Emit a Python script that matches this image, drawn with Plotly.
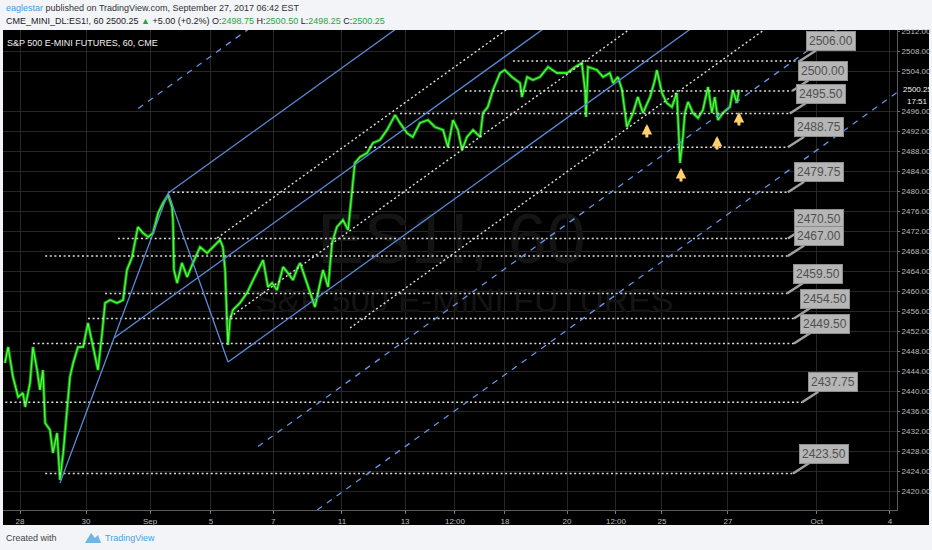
import plotly.graph_objects as go

# ES1! 60 min path, x = trading days from Aug 28 (Aug 28 = 0), y = price
bar_day = [-0.47, -0.37, -0.22, -0.06, 0.09, 0.16, 0.31, 0.40, 0.53, 0.62, 0.71, 0.78, 0.93, 1.02, 1.15,
           1.24, 1.34, 1.46, 1.55, 1.65, 1.80, 1.96, 2.11, 2.27, 2.42, 2.55, 2.64, 2.80, 3.01, 3.20,
           3.32, 3.48, 3.66, 3.82, 3.98, 4.13, 4.29, 4.44, 4.60, 4.72, 4.75, 4.78, 4.88, 5.03, 5.19,
           5.37, 5.59, 5.81, 5.99, 6.21, 6.30, 6.37, 6.43, 6.46, 6.52, 6.61, 6.83, 7.05, 7.24, 7.39,
           7.55, 7.70, 7.83, 7.98, 8.17, 8.32, 8.48, 8.63, 8.70, 8.91, 9.16, 9.32, 9.41, 9.57, 9.69,
           9.84, 10.03, 10.19, 10.31, 10.40, 10.56, 10.78, 10.96, 11.18, 11.40, 11.65, 11.80, 12.02, 12.20, 12.42,
           12.67, 12.89, 13.14, 13.29, 13.45, 13.60, 13.73, 13.88, 14.07, 14.29, 14.38, 14.53, 14.69, 14.91, 15.06,
           15.28, 15.53, 15.59, 15.75, 15.93, 16.15, 16.40, 16.68, 16.99, 17.24, 17.45, 17.55, 17.58, 17.64, 17.92,
           18.11, 18.32, 18.42, 18.57, 18.70, 18.85, 19.04, 19.19, 19.35, 19.57, 19.72, 19.78, 19.94, 20.09, 20.25,
           20.40, 20.47, 20.50, 20.59, 20.65, 20.75, 20.90, 21.06, 21.21, 21.37, 21.49, 21.58, 21.68, 21.83, 22.05,
           22.14, 22.27, 22.33]
bar_price = [2445.6, 2448.8, 2442.8, 2438.8, 2439.6, 2436.8, 2441.6, 2448.8, 2444.2, 2440.2, 2444.2, 2433.6, 2432.2, 2427.6, 2431.6,
             2422.2, 2427.6, 2436.2, 2442.8, 2445.6, 2448.8, 2448.8, 2453.6, 2448.8, 2444.2, 2451.6, 2457.6, 2458.2, 2457.6, 2458.2,
             2464.2, 2466.8, 2472.8, 2471.6, 2470.8, 2471.6, 2475.6, 2477.6, 2479.2, 2476.8, 2474.2, 2464.2, 2461.6, 2465.6, 2462.8,
             2465.6, 2468.8, 2467.6, 2468.8, 2470.2, 2468.8, 2464.2, 2453.6, 2449.2, 2454.2, 2456.2, 2457.6, 2459.6, 2462.2, 2464.2,
             2466.2, 2460.8, 2461.6, 2460.2, 2464.8, 2463.6, 2462.2, 2464.8, 2465.6, 2461.6, 2456.8, 2461.6, 2464.2, 2460.8, 2469.6,
             2472.8, 2474.2, 2472.2, 2480.2, 2485.6, 2486.8, 2487.6, 2489.6, 2490.2, 2492.2, 2495.2, 2493.6, 2491.6, 2490.8, 2493.6,
             2494.2, 2492.8, 2492.2, 2488.8, 2494.2, 2492.2, 2488.2, 2490.8, 2492.2, 2490.8, 2495.6, 2496.8, 2500.2, 2503.6, 2504.2,
             2502.8, 2501.6, 2498.8, 2502.8, 2502.2, 2502.8, 2504.8, 2503.6, 2503.6, 2504.8, 2505.6, 2500.2, 2494.8, 2504.8, 2504.2,
             2502.8, 2503.6, 2501.6, 2502.8, 2500.2, 2492.8, 2495.6, 2498.8, 2495.6, 2498.8, 2502.2, 2504.2, 2499.6, 2497.6, 2496.8,
             2499.6, 2490.2, 2485.6, 2490.8, 2495.6, 2497.8, 2495.6, 2494.6, 2496.2, 2500.8, 2495.6, 2498.8, 2494.2, 2495.6, 2496.8,
             2500.2, 2497.6, 2500.25]

# horizontal levels drawn on the chart
level_price = [2506.00, 2500.00, 2495.50, 2488.75, 2479.75, 2470.50, 2467.00, 2459.50, 2454.50, 2449.50, 2437.75, 2423.50]
level_start = [15.31, 13.82, 11.80, 10.71, 4.60, 3.04, 0.78, 2.64, 2.11, 0.40, -0.60, 0.78]
level_end = [24.22, 23.98, 23.91, 23.85, 23.85, 23.85, 23.85, 23.82, 24.04, 24.04, 24.29, 24.01]

# modified Schiff pitchfork anchors (A, B, C)
fork_day = [1.24, 4.60, 6.46]
fork_price = [2421.6, 2479.6, 2445.8]
fork_solid = [1, 0, -1]
fork_dashed = [2, -2, -3]

# extra dotted parallels (start points)
chan_day = [6.12, 6.52, 10.25]
chan_price = [2470.6, 2454.8, 2452.6]

# yellow arrows
arrow_day = [19.47, 20.53, 21.65, 22.33]
arrow_price = [2493.4, 2484.6, 2491.0, 2495.8]

tick_day = [0, 2.05, 4.04, 5.93, 7.86, 10.0, 11.96, 13.51, 15.06, 16.99, 18.51, 19.94, 21.99, 24.75, 27.02]
tick_text = ["28", "30", "Sep", "5", "7", "11", "13", "12:00", "18", "20", "12:00", "25", "27", "Oct", "4"]
price_ticks = [2420, 2424, 2428, 2432, 2436, 2440, 2444, 2448, 2452, 2456, 2460, 2464, 2468,
               2472, 2476, 2480, 2484, 2488, 2492, 2496, 2504, 2508, 2512]

FONT = "Liberation Sans, Arial, sans-serif"
BLUE = "#5a8ad8"
X_END = 28.0


def px(x):
    return (x - 3) / 894


def py(y):
    return (510 - y) / 480


fig = go.Figure()

# watermark
fig.add_trace(go.Scatter(x=[13.4, 13.8], y=[2469.2, 2457.6], mode="text",
                         text=["ES1!, 60", "S&P 500 E-MINI FUTURES"],
                         textfont=dict(size=[70, 34], color="#141414", family=FONT),
                         hoverinfo="skip", showlegend=False))

# price
fig.add_trace(go.Scatter(x=bar_day, y=bar_price, mode="lines",
                         line=dict(color="#178a17", width=3.2), hoverinfo="skip", showlegend=False))
fig.add_trace(go.Scatter(x=bar_day, y=bar_price, mode="lines",
                         line=dict(color="#4dff3a", width=1.3), showlegend=False))

# horizontal dotted levels
lx, ly = [], []
for s, e, p in zip(level_start, level_end, level_price):
    lx += [s, e, None]
    ly += [p, p, None]
fig.add_trace(go.Scatter(x=lx, y=ly, mode="lines", hoverinfo="skip", showlegend=False,
                         line=dict(color="#dcdcdc", width=1.4, dash="2px,2.6px")))

# pitchfork
ad, bd, cd = fork_day
ap, bp, cp = fork_price
m1d, m1p = (ad + bd) / 2, (ap + bp) / 2
m2d, m2p = (bd + cd) / 2, (bp + cp) / 2
slope = (m2p - m1p) / (m2d - m1d)
spacing = bp - (m1p + slope * (bd - m1d))
s_bc = (cp - bp) / (cd - bd)


def fork_line(k):
    if k == 0:
        d0 = m1d
    else:
        d0 = (m1p - slope * m1d + k * spacing - bp + s_bc * bd) / (s_bc - slope)
    p0 = m1p + slope * (d0 - m1d) + k * spacing
    return [d0, X_END], [p0, p0 + slope * (X_END - d0)]


sx, sy = [ad, bd, cd, None], [ap, bp, cp, None]
for k in fork_solid:
    xs, ys = fork_line(k)
    sx += xs + [None]
    sy += ys + [None]
fig.add_trace(go.Scatter(x=sx, y=sy, mode="lines", hoverinfo="skip", showlegend=False,
                         line=dict(color=BLUE, width=1.3)))

dx, dy = [], []
for k in fork_dashed:
    xs, ys = fork_line(k)
    dx += xs + [None]
    dy += ys + [None]
fig.add_trace(go.Scatter(x=dx, y=dy, mode="lines", hoverinfo="skip", showlegend=False,
                         line=dict(color="#6495e6", width=1.3, dash="6px,6px")))

cx, cy = [], []
for d0, p0 in zip(chan_day, chan_price):
    cx += [d0, X_END, None]
    cy += [p0, p0 + slope * (X_END - d0), None]
fig.add_trace(go.Scatter(x=cx, y=cy, mode="lines", hoverinfo="skip", showlegend=False,
                         line=dict(color="#dcdcdc", width=1.4, dash="2px,2.6px")))

annotations = []
# price callouts
for e, p in zip(level_end, level_price):
    annotations.append(dict(x=e, y=p, text="%.2f" % p, showarrow=True, ax=31, ay=-20,
                            arrowhead=0, arrowwidth=2.5, arrowcolor="#a0a0a0",
                            bgcolor="#b6b6b6", bordercolor="#8e8e8e", borderwidth=1, borderpad=2,
                            font=dict(family=FONT, size=12, color="#505050")))
# yellow arrows
for d, p in zip(arrow_day, arrow_price):
    annotations.append(dict(x=d, y=p, text="", showarrow=True, ax=0, ay=15,
                            arrowhead=2, arrowsize=0.7, arrowwidth=3, arrowcolor="#ffcf70",
                            font=dict(size=1)))

head1 = ('<span style="color:#3d9be9">eaglestar</span> published on TradingView.com, '
         'September 27, 2017 06:42 EST')
head2 = ('CME_MINI_DL:ES1!, 60 2500.25 <span style="color:#2aa43a">▲</span> +5.00 (+0.2%) '
         'O:<span style="color:#2aa43a">2498.75</span> H:<span style="color:#2aa43a">2500.50</span> '
         'L:<span style="color:#2aa43a">2498.25</span> C:<span style="color:#2aa43a">2500.25</span>')
texts = [
    (head1, 4, 8, 9, "#333333"),
    (head2, 4, 21, 9, "#222222"),
    ("S&P 500 E-MINI FUTURES, 60, CME", 5, 43, 9, "#f0f0f0"),
    ("Created with", 4, 538, 9, "#444444"),
    ("TradingView", 103, 538, 9, "#4aa3df"),
]
for t, x, y, s, c in texts:
    annotations.append(dict(xref="paper", yref="paper", x=px(x), y=py(y), text=t, showarrow=False,
                            xanchor="left", yanchor="middle",
                            font=dict(family=FONT, size=s, color=c)))
# last price on the axis
annotations.append(dict(xref="paper", yref="y", x=px(901), y=2500.25, text="2500.25", showarrow=False,
                        xanchor="left", yanchor="middle", font=dict(family=FONT, size=8, color="#f2f2f2")))
annotations.append(dict(xref="paper", yref="y", x=px(905), y=2500.25, yshift=-12, text="17:51",
                        showarrow=False, xanchor="left", yanchor="middle",
                        font=dict(family=FONT, size=8, color="#f2f2f2")))

shapes = [
    dict(type="rect", xref="paper", yref="paper", x0=px(3), x1=px(929), y0=py(525), y1=py(30),
         fillcolor="#000000", line=dict(width=0), layer="below"),
    # TradingView logo
    dict(type="path", xref="paper", yref="paper",
         path="M %f,%f L %f,%f L %f,%f L %f,%f L %f,%f Z" % (px(85), py(543), px(91), py(533), px(95), py(538),
                                                           px(98), py(535), px(101), py(543)),
         fillcolor="#6fb6e6", line=dict(width=0)),
]

fig.update_layout(
    width=932, height=550,
    margin=dict(l=3, r=35, t=30, b=40),
    paper_bgcolor="#f2f4f7", plot_bgcolor="#000000",
    showlegend=False,
    font=dict(family=FONT, size=9, color="#bdbdbd"),
    annotations=annotations, shapes=shapes,
    xaxis=dict(range=[-0.53, 27.24], tickvals=tick_day, ticktext=tick_text, showgrid=True,
               gridcolor="#272727", gridwidth=1, zeroline=False, ticks="outside", ticklen=3,
               tickcolor="#777777", showline=True, linecolor="#5a5a5a", automargin=False,
               tickfont=dict(family=FONT, size=8, color="#bdbdbd")),
    yaxis=dict(range=[2416.2, 2512.2], side="right", tickvals=price_ticks,
               ticktext=["%.2f" % v for v in price_ticks], showgrid=True, gridcolor="#272727",
               zeroline=False, ticks="outside", ticklen=2, tickcolor="#777777", showline=True,
               linecolor="#5a5a5a", automargin=False,
               tickfont=dict(family=FONT, size=8, color="#bdbdbd")),
)

fig.write_html("out.html", config={"displayModeBar": False},
               post_script="document.body.style.margin='0';")
